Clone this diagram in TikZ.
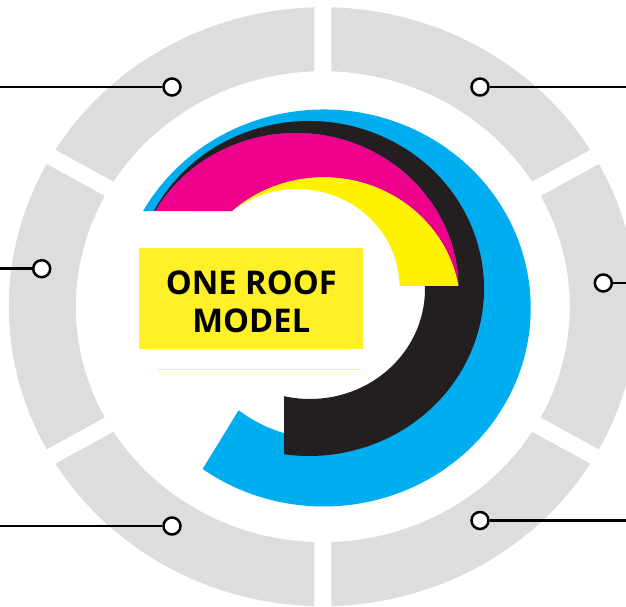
\documentclass[tikz,border=0pt]{standalone}
\usepackage{xcolor}
\usepackage{fontspec}
\setmainfont{Open Sans}
\usetikzlibrary{positioning}
\definecolor{myring}{RGB}{220,221,222}
\definecolor{myblue}{RGB}{0,174,239}
\definecolor{myblack}{RGB}{35,31,32}
\definecolor{mymagenta}{RGB}{236,0,140}
\definecolor{myyellow}{RGB}{255,242,0}
\definecolor{hdryellow}{RGB}{255,240,40}
\definecolor{rulyellow}{RGB}{255,240,120}
% centre, x radius, y radius, from, to
\newcommand{\roofarc}[5]{([shift={(#1)}]#4:#2 and #3) arc[start angle=#4, end angle=#5, x radius=#2, y radius=#3]}
\tikzset{
  ringseg/.style={fill=myring},
  pin/.style={circle, draw=black, fill=white, minimum size=17pt, inner sep=0pt, line width=2.5pt},
  leader/.style={line width=2.7pt, color=black},
  title/.style={rectangle, fill=hdryellow, minimum width=223.4pt, minimum height=101pt, inner sep=0pt},
  titletext/.style={align=center, inner sep=0pt, font=\fontsize{32.7}{38}\selectfont\bfseries}
}

\begin{document}
\begin{tikzpicture}[x=1pt, y=1pt]
  \clip (0,0) rectangle (626,607);
  \useasboundingbox (0,0) rectangle (626,607);

  % Outer ring
  \foreach \sx/\sy in {1/1, -1/1, 1/-1, -1/-1} {
    \begin{scope}[shift={(322.8,300.3)}, xscale=\sx, yscale=\sy]
      \fill[ringseg] \roofarc{0,0}{314}{299.5}{91.55}{148.4} -- \roofarc{0,0}{247}{235.5}{147.9}{91.97} -- cycle;
    \end{scope}
  }
  \foreach \sx in {1, -1} {
    \begin{scope}[shift={(322.8,300.3)}, xscale=\sx]
      \fill[ringseg] \roofarc{0,0}{314}{299.5}{151.55}{208.45} -- \roofarc{0,0}{247}{235.5}{208.05}{151.95} -- cycle;
    \end{scope}
  }

  % Roof bands
  \fill[myblue] \roofarc{323.7,299}{207}{198.5}{150.75}{-125.8} -- \roofarc{323.7,299}{136.6}{130.7}{-128.5}{132.1} -- cycle;
  \fill[myblack] \roofarc{309,318.5}{175}{167.5}{152.4}{-98.2} -- \roofarc{310,318}{115}{110}{-103}{1.5} -- \roofarc{296,318.5}{162.5}{155.5}{0.9}{150.1} -- cycle;
  \fill[mymagenta] \roofarc{296,318.5}{162.5}{155.5}{150.1}{0.9} -- \roofarc{323.7,299}{136.6}{130.7}{9.7}{132.1} -- cycle;
  \fill[myyellow] \roofarc{323.7,299}{136.6}{130.7}{9.7}{132.1} -- \roofarc{297,320}{102.5}{98}{129.1}{0.6} -- cycle;

  % Title
  \node[title] (model) at (251,308.2) {};
  \node[titletext] (modeltext) at (251.3,305.5) {ONE ROOF\\MODEL};
  \coordinate (ruleL) at (158,237.7);
  \coordinate (ruleR) at (360.7,237.7);
  \draw[rulyellow, line width=0.6pt] (ruleL) -- (ruleR);

  % Pins and leaders
  \node[pin] (pinA) at (172,520) {};
  \node[pin] (pinB) at (480,520) {};
  \node[pin] (pinC) at (41.7,338.3) {};
  \node[pin] (pinD) at (603.3,324) {};
  \node[pin] (pinE) at (172,81) {};
  \node[pin] (pinF) at (480,86.5) {};
  \coordinate (endA) at (0,520);
  \coordinate (endB) at (626,520);
  \coordinate (endC) at (0,338.3);
  \coordinate (endD) at (626,324);
  \coordinate (endE) at (0,81);
  \coordinate (endF) at (626,86.5);
  \draw[leader] (pinA) -- (endA);
  \draw[leader] (pinB) -- (endB);
  \draw[leader] (pinC) -- (endC);
  \draw[leader] (pinD) -- (endD);
  \draw[leader] (pinE) -- (endE);
  \draw[leader] (pinF) -- (endF);
\end{tikzpicture}
\end{document}
